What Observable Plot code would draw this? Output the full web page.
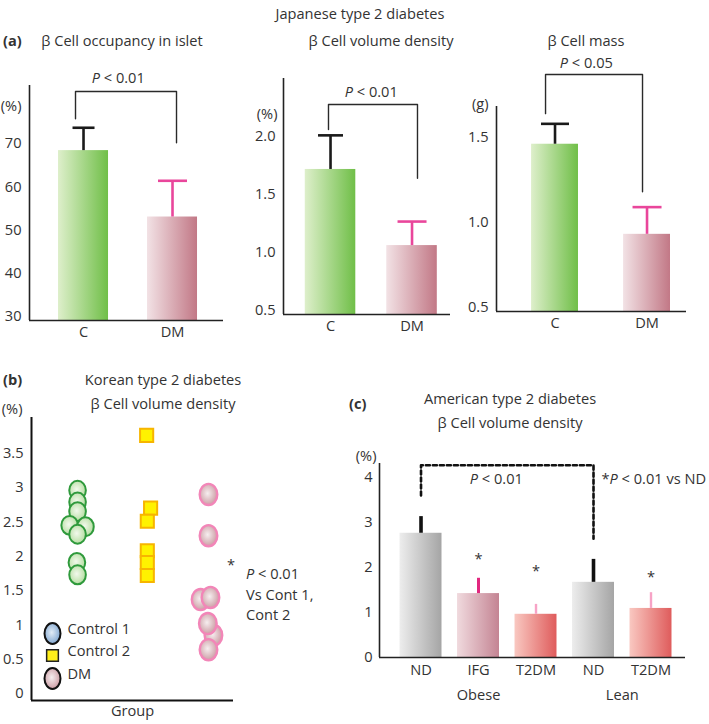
<!DOCTYPE html>
<html>
<head>
<meta charset="utf-8">
<script src="https://cdn.jsdelivr.net/npm/d3@7"></script>
<script src="https://cdn.jsdelivr.net/npm/@observablehq/plot@0.6"></script>
<style>
  body { margin: 0; background: #fff; }
  #chart { position: relative; width: 709px; height: 724px; font-family: "Open Sans", sans-serif; color: #333; overflow: hidden; }
  #chart svg { position: absolute; left: 0; top: 0; }
  .t { position: absolute; font-size: 14.6px; white-space: nowrap; line-height: 1; transform: translate(-50%, -50%); }
  .l { position: absolute; font-size: 14.6px; white-space: nowrap; line-height: 1; transform: translate(0, -50%); }
  .b { font-weight: 700; }
</style>
</head>
<body>
<div id="chart"></div>
<script>
// ================= DATA =================
// (a) Japanese type 2 diabetes
const aCategories = ["C", "DM"];

const occupancyMean = [68.4, 53.0];
const occupancyUpper = [73.7, 61.4];
const occupancyTicks = [30, 40, 50, 60, 70];
const occupancyBracketX = [-0.09, 1.045];
const occupancyBracketY = [75.8, 82.1, 70.2];
const occupancyP = "P < 0.01";

const volumeMean = [1.716, 1.06];
const volumeUpper = [2.01, 1.267];
const volumeTicks = [0.5, 1.0, 1.5, 2.0];
const volumeBracketX = [-0.025, 1.067];
const volumeBracketY = [2.06, 2.276, 1.64];
const volumeP = "P < 0.01";

const massMean = [1.46, 0.93];
const massUpper = [1.58, 1.09];
const massTicks = [0.5, 1.0, 1.5];
const massBracketX = [-0.103, 0.951];
const massBracketY = [1.64, 1.87, 1.18];
const massP = "P < 0.05";

// (b) Korean type 2 diabetes, individual values
const koreanGroups = ["Control 1", "Control 2", "DM"];
const control1Values = [2.96, 2.79, 2.65, 2.45, 2.43, 2.32, 1.91, 1.73];
const control1Jitter = [0, 0, 0, -0.12, 0.12, 0, -0.01, 0];
const control2Values = [3.76, 2.70, 2.51, 2.08, 1.91, 1.72];
const control2Jitter = [0.05, 0.11, 0.06, 0.06, 0.06, 0.06];
const dmValues = [2.90, 2.30, 1.37, 1.40, 0.85, 1.02, 0.64];
const dmJitter = [-0.01, -0.01, -0.13, 0.02, 0.065, -0.02, -0.01];
const koreanTicks = [0, 0.5, 1, 1.5, 2, 2.5, 3, 3.5];

// (c) American type 2 diabetes
const usCategories = ["ND", "IFG", "T2DM", "ND", "T2DM"];
const usGroups = ["Obese", "Obese", "Obese", "Lean", "Lean"];
const usMean = [2.76, 1.42, 0.96, 1.67, 1.09];
const usUpper = [3.13, 1.76, 1.18, 2.18, 1.44];
const usStar = [false, true, true, false, true];
const usStarY = [null, 2.27, 2.0, null, 1.87];
const usTicks = [0, 1, 2, 3, 4];
const usBracketX = [0, 3];
const usBracketY = [3.6, 4.27, 2.64];
const usP = "P < 0.01";
const usNote = "*P < 0.01 vs ND";

// ================= SETUP =================
const W = 709, H = 724;
const chart = document.getElementById("chart");

// gradient definitions (shared by all plots)
const defsSvg = d3.select(chart).append("svg").attr("width", 0).attr("height", 0);
const defs = defsSvg.append("defs");
function linGrad(id, c0, c1) {
  const g = defs.append("linearGradient").attr("id", id).attr("x1", 0).attr("x2", 1).attr("y1", 0).attr("y2", 0);
  g.append("stop").attr("offset", "0%").attr("stop-color", c0);
  g.append("stop").attr("offset", "100%").attr("stop-color", c1);
}
function radGrad(id, c0, c1) {
  const g = defs.append("radialGradient").attr("id", id).attr("cx", "45%").attr("cy", "45%").attr("r", "60%");
  g.append("stop").attr("offset", "0%").attr("stop-color", c0);
  g.append("stop").attr("offset", "100%").attr("stop-color", c1);
}
linGrad("gGreen", "#deefcb", "#70bf48");
linGrad("gRose", "#f2e2e5", "#c27886");
linGrad("gGray", "#ededed", "#a5a5a5");
linGrad("gIfg", "#f0dade", "#c48493");
linGrad("gSalmon", "#f9c8c1", "#df5c5c");
radGrad("rGreen", "#f2f9ec", "#b1dc9c");
radGrad("rPink", "#f6eeef", "#c9979f");
radGrad("rBlue", "#e2ecf6", "#7ba3cf");

const baseStyle = {fontFamily: "'Open Sans', sans-serif", fontSize: "14.6px", color: "#333", background: "transparent", overflow: "visible"};

function frameOf(box) {
  const [l, t, r, b] = box;
  return {width: W, height: H, marginLeft: l, marginTop: t, marginRight: W - r, marginBottom: H - b};
}

function ellipseSymbol(aspect) {
  return {draw(ctx, size) {
    const rx = Math.sqrt(size / Math.PI), ry = rx * aspect, k = 0.5523;
    ctx.moveTo(rx, 0);
    ctx.bezierCurveTo(rx, ry * k, rx * k, ry, 0, ry);
    ctx.bezierCurveTo(-rx * k, ry, -rx, ry * k, -rx, 0);
    ctx.bezierCurveTo(-rx, -ry * k, -rx * k, -ry, 0, -ry);
    ctx.bezierCurveTo(rx * k, -ry, rx, -ry * k, rx, 0);
    ctx.closePath();
  }};
}
const capSymbol = {draw(ctx, size) {
  const r = Math.sqrt(size / Math.PI);
  ctx.moveTo(-r, 0); ctx.lineTo(r, 0);
}};

function italicP(svg) {
  d3.select(svg).selectAll("text").each(function () {
    if (this.querySelector("tspan")) return;
    const s = this.textContent;
    const m = s.match(/^(\*?)P( < .*)$/);
    if (!m) return;
    const t = d3.select(this);
    t.text(null);
    if (m[1]) t.append("tspan").text(m[1]);
    t.append("tspan").attr("font-style", "italic").text("P");
    t.append("tspan").text(m[2]);
  });
}

function mount(svg) { chart.appendChild(svg); italicP(svg); }

// ================= PANEL (a) =================
function panelA({mean, upper, ticks, fmt, unit, box, xDomain, yDomain, barHalf, caps, bracketX, bracketY, pText, pX, pDy, unitDx, unitDy}) {
  const rows = aCategories.map((c, i) => ({i, c, mean: mean[i], upper: upper[i]}));
  const fills = ["url(#gGreen)", "url(#gRose)"];
  const errColors = ["#1a1a1a", "#e9469b"];
  const br = [
    {x: bracketX[0], y: bracketY[0]}, {x: bracketX[0], y: bracketY[1]},
    {x: bracketX[1], y: bracketY[1]}, {x: bracketX[1], y: bracketY[2]}
  ];
  return Plot.plot({
    ...frameOf(box), style: baseStyle,
    x: {type: "linear", domain: xDomain},
    y: {type: "linear", domain: yDomain},
    marks: [
      ...rows.map(d => Plot.rect([d], {x1: r => r.i - barHalf, x2: r => r.i + barHalf, y1: yDomain[0], y2: "mean", fill: fills[d.i]})),
      ...rows.map(d => Plot.ruleX([d], {x: "i", y1: "mean", y2: "upper", stroke: errColors[d.i], strokeWidth: 2.6})),
      ...rows.map(d => Plot.dot([d], {x: "i", y: "upper", symbol: capSymbol, r: caps[d.i], fill: "none", stroke: errColors[d.i], strokeWidth: 2.6})),
      Plot.line(br, {x: "x", y: "y", stroke: "#2a2a2a", strokeWidth: 1.4}),
      Plot.text([pText], {x: pX, y: bracketY[1], dy: pDy, fill: "#333"}),
      Plot.ruleX([xDomain[0]], {stroke: "#222", strokeWidth: 1.6}),
      Plot.ruleY([yDomain[0]], {stroke: "#222", strokeWidth: 1.6}),
      Plot.axisY(ticks, {tickSize: 0, tickPadding: 8, tickFormat: fmt, label: null, fill: "#333"}),
      Plot.axisX([0, 1], {tickSize: 0, tickPadding: 6, tickFormat: i => aCategories[i], label: null, fill: "#333"}),
      Plot.text([unit], {frameAnchor: "top-left", textAnchor: "end", dx: unitDx, dy: unitDy, fill: "#333"})
    ]
  });
}

mount(panelA({
  mean: occupancyMean, upper: occupancyUpper, ticks: occupancyTicks, fmt: d3.format("d"), unit: "(%)",
  box: [29, 85, 223, 320], xDomain: [-0.607, 1.573], yDomain: [29, 83.5], barHalf: 0.281, caps: [11, 14.5],
  bracketX: occupancyBracketX, bracketY: occupancyBracketY, pText: occupancyP, pX: 0.39, pDy: -13, unitDx: -8, unitDy: 15
}));
mount(panelA({
  mean: volumeMean, upper: volumeUpper, ticks: volumeTicks, fmt: d3.format(".1f"), unit: "(%)",
  box: [283, 78, 450, 314], xDomain: [-0.577, 1.472], yDomain: [0.466, 2.5], barHalf: 0.31, caps: [12.5, 14.5],
  bracketX: volumeBracketX, bracketY: volumeBracketY, pText: volumeP, pX: 0.5, pDy: -12, unitDx: -6, unitDy: 30
}));
mount(panelA({
  mean: massMean, upper: massUpper, ticks: massTicks, fmt: d3.format(".1f"), unit: "(g)",
  box: [496, 106, 686, 311], xDomain: [-0.636, 1.429], yDomain: [0.476, 1.682], barHalf: 0.255, caps: [14, 14.5],
  bracketX: massBracketX, bracketY: massBracketY, pText: massP, pX: 0.34, pDy: -11, unitDx: -8, unitDy: -8
}));

// ================= PANEL (b) =================
{
  const pts1 = control1Values.map((v, i) => ({x: 1 + control1Jitter[i], y: v}));
  const pts2 = control2Values.map((v, i) => ({x: 2 + control2Jitter[i], y: v}));
  const pts3 = dmValues.map((v, i) => ({x: 3 + dmJitter[i], y: v}));
  const greenEll = ellipseSymbol(1.14);
  const pinkEll = ellipseSymbol(1.2);
  const legendEll = ellipseSymbol(1.3);
  const legendStyles = [
    {symbol: legendEll, r: 8, fill: "url(#rBlue)", stroke: "#111", strokeWidth: 2},
    {symbol: "square", r: 6.6, fill: "#ffef1a", stroke: "#222", strokeWidth: 1.5},
    {symbol: legendEll, r: 8, fill: "url(#rPink)", stroke: "#111", strokeWidth: 2}
  ];
  const legendDy = [-67, -45, -22];
  const yDomain = [-0.1, 4.02];
  const xDomain = [0.3, 3.37];
  const svg = Plot.plot({
    ...frameOf([31, 417, 233, 700]), style: baseStyle,
    x: {type: "linear", domain: xDomain, axis: null},
    y: {type: "linear", domain: yDomain},
    marks: [
      Plot.dot(pts1, {x: "x", y: "y", symbol: greenEll, r: 8.3, fill: "url(#rGreen)", stroke: "#2f9a3c", strokeWidth: 2}),
      Plot.dot(pts2, {x: "x", y: "y", symbol: "square", r: 7.4, fill: "#fff200", stroke: "#f7b500", strokeWidth: 2}),
      Plot.dot(pts3, {x: "x", y: "y", symbol: pinkEll, r: 8.8, fill: "url(#rPink)", stroke: "#f286b8", strokeWidth: 2.4}),
      ...koreanGroups.map((g, i) => Plot.dot([g], {frameAnchor: "bottom-left", dx: 21, dy: legendDy[i], ...legendStyles[i]})),
      ...koreanGroups.map((g, i) => Plot.text([g], {frameAnchor: "bottom-left", textAnchor: "start", dx: 36, dy: legendDy[i], fill: "#333"})),
      Plot.ruleX([xDomain[0]], {stroke: "#111", strokeWidth: 2}),
      Plot.ruleY([yDomain[0]], {stroke: "#111", strokeWidth: 2}),
      Plot.axisY(koreanTicks, {tickSize: 0, tickPadding: 8, tickFormat: d => String(d), label: null, fill: "#333"}),
      Plot.text(["Group"], {frameAnchor: "bottom", dy: 15, fill: "#333"}),
      Plot.text(["(%)"], {frameAnchor: "top-left", textAnchor: "end", dx: -9, dy: -14, fill: "#333"})
    ]
  });
  mount(svg);
}

// ================= PANEL (c) =================
{
  const rows = usCategories.map((c, i) => ({i, c, g: usGroups[i], mean: usMean[i], upper: usUpper[i], star: usStar[i], starY: usStarY[i]}));
  const fills = ["url(#gGray)", "url(#gIfg)", "url(#gSalmon)", "url(#gGray)", "url(#gSalmon)"];
  const errColors = ["#111", "#e2287f", "#f7a3c6", "#111", "#f7a3c6"];
  const errWidths = [3.6, 3, 2.4, 3.6, 2.4];
  const groups = Array.from(d3.group(rows, d => d.g), ([g, rs]) => ({g, x: d3.mean(rs, r => r.i)}));
  const yDomain = [0, 4.31];
  const xDomain = [-0.722, 4.6];
  const barHalf = 0.365;
  const br = [
    {x: usBracketX[0], y: usBracketY[0]}, {x: usBracketX[0], y: usBracketY[1]},
    {x: usBracketX[1], y: usBracketY[1]}, {x: usBracketX[1], y: usBracketY[2]}
  ];
  const svg = Plot.plot({
    ...frameOf([379, 463, 685, 657]), style: baseStyle,
    x: {type: "linear", domain: xDomain},
    y: {type: "linear", domain: yDomain},
    marks: [
      ...rows.map(d => Plot.rect([d], {x1: r => r.i - barHalf, x2: r => r.i + barHalf, y1: yDomain[0], y2: "mean", fill: fills[d.i]})),
      ...rows.map(d => Plot.ruleX([d], {x: "i", y1: "mean", y2: "upper", stroke: errColors[d.i], strokeWidth: errWidths[d.i]})),
      Plot.text(rows.filter(d => d.star), {x: "i", y: "starY", text: () => "*", dy: 4, fill: "#333"}),
      Plot.line(br, {x: "x", y: "y", stroke: "#111", strokeWidth: 2.6, strokeDasharray: "4,3"}),
      Plot.text([usP], {x: 1.31, y: usBracketY[1], dy: 14, fill: "#333"}),
      Plot.text([usNote], {x: usBracketX[1], y: usBracketY[1], dx: 8, dy: 14, textAnchor: "start", fill: "#333"}),
      Plot.ruleX([xDomain[0]], {stroke: "#222", strokeWidth: 1.6}),
      Plot.ruleY([yDomain[0]], {stroke: "#222", strokeWidth: 1.6}),
      Plot.axisY(usTicks, {tickSize: 0, tickPadding: 7, label: null, fill: "#333"}),
      Plot.axisX(usTicks, {tickSize: 0, tickPadding: 7, tickFormat: i => usCategories[i], label: null, fill: "#333"}),
      Plot.text(groups, {x: "x", y: yDomain[0], text: "g", dy: 38, fill: "#333"}),
      Plot.text(["(%)"], {frameAnchor: "top-left", textAnchor: "end", dx: -3, dy: -13, fill: "#333"})
    ]
  });
  mount(svg);
}

// ================= TITLES & NOTES (HTML text) =================
const labels = [
  ["t", 360, 13, "Japanese type 2 diabetes"],
  ["l b", 3, 40, "(a)"],
  ["t", 122, 40, "β Cell occupancy in islet"],
  ["t", 381, 40, "β Cell volume density"],
  ["t", 586, 40, "β Cell mass"],
  ["l b", 3, 379, "(b)"],
  ["t", 163, 379, "Korean type 2 diabetes"],
  ["t", 163, 403, "β Cell volume density"],
  ["l b", 349, 403, "(c)"],
  ["t", 510, 398, "American type 2 diabetes"],
  ["t", 510, 422, "β Cell volume density"],
  ["l", 227, 564, "*"],
  ["l", 246, 573, "<i>P</i> &lt; 0.01"],
  ["l", 246, 594, "Vs Cont 1,"],
  ["l", 246, 614, "Cont 2"]
];
for (const [cls, x, y, html] of labels) {
  const el = document.createElement("div");
  el.className = cls;
  el.style.left = x + "px";
  el.style.top = y + "px";
  el.innerHTML = html;
  chart.appendChild(el);
}
</script>
</body>
</html>
